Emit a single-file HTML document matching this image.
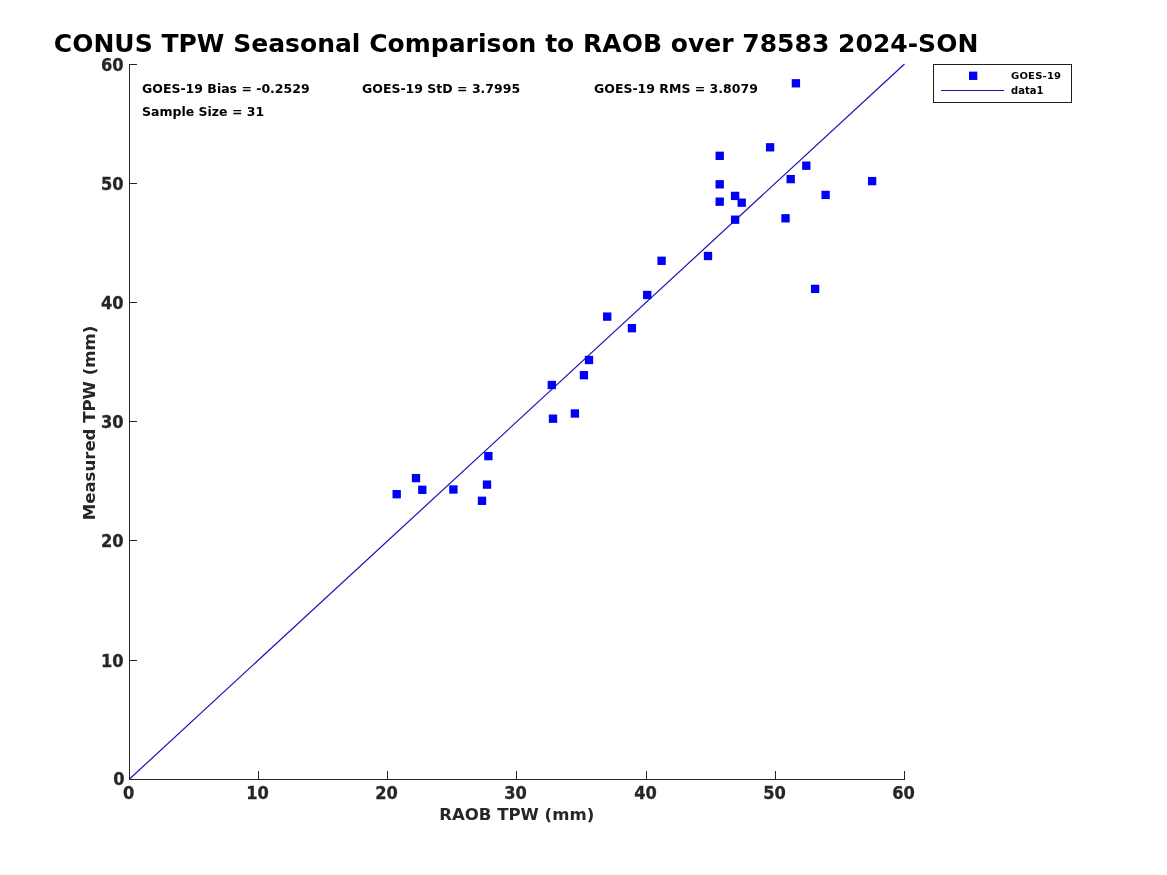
<!DOCTYPE html><html><head><meta charset="utf-8"><title>CONUS TPW Seasonal Comparison to RAOB over 78583 2024-SON</title><style>
html,body{margin:0;padding:0;background:#fff;}
body{width:1167px;height:875px;position:relative;overflow:hidden;font-family:"DejaVu Sans","Liberation Sans",sans-serif;font-weight:bold;color:#262626;}
.t{position:absolute;white-space:nowrap;line-height:20px;height:20px;}
.a{position:absolute;background:#262626;}
svg{position:absolute;left:0;top:0;}
.xt{-webkit-text-stroke:0.3px #262626;font-size:16.67px;width:60px;text-align:center;transform:translate(-0.4px,0.2px) scale(0.976,1.04);transform-origin:50% 50%;}
.yt{-webkit-text-stroke:0.3px #262626;font-size:16.67px;width:60px;text-align:right;transform:translate(-0.4px,0px) scale(0.976,1.04);transform-origin:100% 50%;}
.an{font-size:12.5px;color:#000;}
.lg{font-size:10px;color:#000;}
</style></head><body>
<svg width="1167" height="875" viewBox="0 0 1167 875"><line x1="129.5" y1="779" x2="904.5" y2="64" stroke="#1812b4" stroke-width="1.2"/></svg>
<div class="a" style="left:129px;top:64px;width:1px;height:716px"></div>
<div class="a" style="left:129px;top:779px;width:776px;height:1px"></div>
<div class="a" style="left:129px;top:771px;width:1px;height:8px"></div>
<div class="a" style="left:258px;top:771px;width:1px;height:8px"></div>
<div class="a" style="left:387px;top:771px;width:1px;height:8px"></div>
<div class="a" style="left:516px;top:771px;width:1px;height:8px"></div>
<div class="a" style="left:646px;top:771px;width:1px;height:8px"></div>
<div class="a" style="left:775px;top:771px;width:1px;height:8px"></div>
<div class="a" style="left:904px;top:771px;width:1px;height:8px"></div>
<div class="a" style="left:130px;top:779px;width:7px;height:1px"></div>
<div class="a" style="left:130px;top:660px;width:7px;height:1px"></div>
<div class="a" style="left:130px;top:540px;width:7px;height:1px"></div>
<div class="a" style="left:130px;top:421px;width:7px;height:1px"></div>
<div class="a" style="left:130px;top:302px;width:7px;height:1px"></div>
<div class="a" style="left:130px;top:183px;width:7px;height:1px"></div>
<div class="a" style="left:130px;top:64px;width:7px;height:1px"></div>
<div style="position:absolute;left:933px;top:64px;width:137px;height:37px;border:1px solid #1f1f1f;background:#fff"></div>
<div class="a" style="left:941px;top:90px;width:63px;height:1px;background:#1a14b0"></div>
<svg width="1167" height="875" viewBox="0 0 1167 875"><g fill="#0000f6"><rect x="392.53" y="490.03" width="8.33" height="8.33"/><rect x="411.83" y="473.94" width="8.33" height="8.33"/><rect x="418.13" y="485.63" width="8.33" height="8.33"/><rect x="449.23" y="485.33" width="8.33" height="8.33"/><rect x="484.23" y="451.94" width="8.33" height="8.33"/><rect x="482.83" y="480.44" width="8.33" height="8.33"/><rect x="477.83" y="496.63" width="8.33" height="8.33"/><rect x="547.63" y="380.83" width="8.33" height="8.33"/><rect x="548.84" y="414.53" width="8.33" height="8.33"/><rect x="570.74" y="409.33" width="8.33" height="8.33"/><rect x="579.74" y="371.03" width="8.33" height="8.33"/><rect x="584.84" y="355.83" width="8.33" height="8.33"/><rect x="603.04" y="312.44" width="8.33" height="8.33"/><rect x="627.74" y="324.03" width="8.33" height="8.33"/><rect x="643.04" y="290.83" width="8.33" height="8.33"/><rect x="657.44" y="256.63" width="8.33" height="8.33"/><rect x="703.84" y="251.84" width="8.33" height="8.33"/><rect x="715.54" y="151.64" width="8.33" height="8.33"/><rect x="715.54" y="180.14" width="8.33" height="8.33"/><rect x="715.54" y="197.53" width="8.33" height="8.33"/><rect x="730.94" y="191.74" width="8.33" height="8.33"/><rect x="737.54" y="198.53" width="8.33" height="8.33"/><rect x="730.94" y="215.53" width="8.33" height="8.33"/><rect x="765.94" y="143.14" width="8.33" height="8.33"/><rect x="781.34" y="214.14" width="8.33" height="8.33"/><rect x="786.54" y="174.94" width="8.33" height="8.33"/><rect x="802.13" y="161.53" width="8.33" height="8.33"/><rect x="821.44" y="190.74" width="8.33" height="8.33"/><rect x="791.74" y="79.13" width="8.33" height="8.33"/><rect x="867.94" y="176.94" width="8.33" height="8.33"/><rect x="810.94" y="284.73" width="8.33" height="8.33"/><rect x="969.00" y="71.63" width="8.33" height="8.33"/></g></svg>
<div class="t" id="title" style="left:53.8px;top:29px;font-size:25px;line-height:30px;height:30px;color:#000;letter-spacing:0.018px">CONUS TPW Seasonal Comparison to RAOB over 78583 2024-SON</div>
<div class="t xt" style="left:99px;top:784px">0</div>
<div class="t xt" style="left:228px;top:784px">10</div>
<div class="t xt" style="left:357px;top:784px">20</div>
<div class="t xt" style="left:486px;top:784px">30</div>
<div class="t xt" style="left:616px;top:784px">40</div>
<div class="t xt" style="left:745px;top:784px">50</div>
<div class="t xt" style="left:874px;top:784px">60</div>
<div class="t yt" style="left:64px;top:771px;transform:translate(0.5px,-0.8px) scale(0.976,1.04)">0</div>
<div class="t yt" style="left:64px;top:652px">10</div>
<div class="t yt" style="left:64px;top:532px">20</div>
<div class="t yt" style="left:64px;top:413px">30</div>
<div class="t yt" style="left:64px;top:294px">40</div>
<div class="t yt" style="left:64px;top:175px">50</div>
<div class="t yt" style="left:64px;top:56px">60</div>
<div class="t" id="xl" style="left:416.7px;width:200px;text-align:center;top:805px;font-size:16.56px">RAOB TPW (mm)</div>
<div class="t" id="yl" style="left:-10px;top:412.9px;width:200px;text-align:center;font-size:16.56px;transform:rotate(-90deg)">Measured TPW (mm)</div>
<div class="t an" id="a1" style="left:142px;top:79px">GOES-19 Bias = -0.2529</div>
<div class="t an" id="a2" style="left:362px;top:79px">GOES-19 StD = 3.7995</div>
<div class="t an" id="a3" style="left:594px;top:79px">GOES-19 RMS = 3.8079</div>
<div class="t an" id="a4" style="left:142px;top:102px">Sample Size = 31</div>
<div class="t lg" id="l1" style="left:1011px;top:66px;letter-spacing:0.2px;transform:scaleY(0.95);transform-origin:0 14px">GOES-19</div>
<div class="t lg" id="l2" style="left:1011px;top:81px;transform:scaleY(0.96);transform-origin:0 14px">data1</div>
</body></html>
